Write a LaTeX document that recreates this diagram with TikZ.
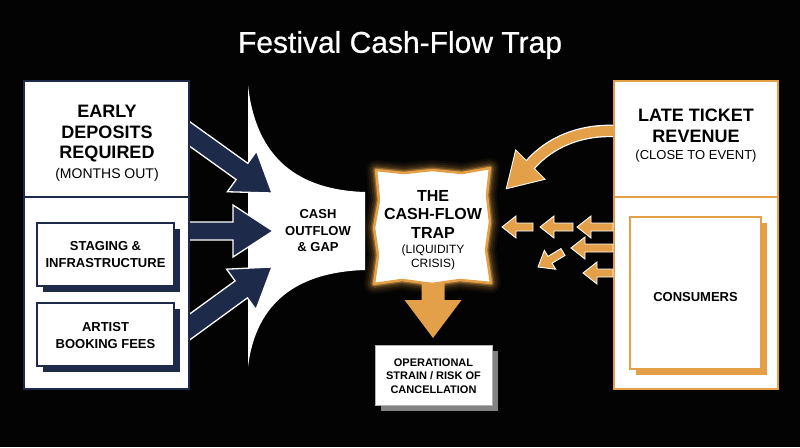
\documentclass[tikz,border=0pt]{standalone}
\usepackage{fontspec}
\setmainfont{Liberation Sans}
\newfontfamily\titlefont[FakeBold=0.7]{Liberation Sans}
\usetikzlibrary{calc}
\definecolor{navy}{RGB}{30,42,74}
\definecolor{gold}{RGB}{227,160,72}
\definecolor{bgc}{RGB}{3,3,3}
\definecolor{shadowgrey}{RGB}{130,130,130}
% block arrow: style, tail, tip, half shaft, half head, head length
\newcommand\blockarrow[6]{%
  \coordinate (ba-s) at #2; \coordinate (ba-e) at #3;
  \coordinate (ba-h) at ($(ba-e)!#6!(ba-s)$);
  \path[#1] ($(ba-s)!#4!90:(ba-e)$) -- ($(ba-h)!#4!90:(ba-e)$) -- ($(ba-h)!#5!90:(ba-e)$)
    -- (ba-e) -- ($(ba-h)!#5!-90:(ba-e)$) -- ($(ba-h)!#4!-90:(ba-e)$) -- ($(ba-s)!#4!-90:(ba-e)$) -- cycle;
}
\newcommand\trappath{(376,170) -- (404,173) -- (432,170) -- (462,173) -- (490,168) -- (487,195) -- (490,222) -- (486,250) -- (491,283) -- (460,280) -- (432,284) -- (402,280) -- (374,284) -- (378,255) -- (374,228) -- (379,200) -- cycle}
\begin{document}
\begin{tikzpicture}[x=1pt,y=-1pt,
  txt/.style={inner sep=0pt, align=center, text=black},
  bigb/.style={txt, font=\bfseries\fontsize{18}{20.5}\selectfont},
  navyarrow/.style={fill=navy, draw=white, line width=1.3pt, line join=miter},
  goldarrow/.style={fill=gold, draw=white, line width=0.9pt, line join=miter},
  navybox/.style={fill=white, draw=navy, line width=1.5pt},
  goldbox/.style={fill=white, draw=gold, line width=1.5pt}]
\useasboundingbox (0,0) rectangle (800,447);
\fill[bgc] (0,0) rectangle (800,447);

% title
\node[inner sep=0pt, text=white, font=\titlefont\fontsize{30}{34}\selectfont] (title) at (400,45) {Festival Cash-Flow Trap};

% funnel
\fill[white] (248,85) .. controls (256,160) and (300,190) .. (365,192) -- (365,270)
  .. controls (300,272) and (256,300) .. (248,367) -- cycle;
\node[txt, font=\bfseries\fontsize{13}{16.5}\selectfont] (gap) at (318,231) {CASH\\OUTFLOW\\\& GAP};

% navy arrows into funnel
\coordinate (n1s) at (180,127); \coordinate (n1e) at (272,193);
\coordinate (n2s) at (180,231); \coordinate (n2e) at (273,231);
\coordinate (n3s) at (180,334); \coordinate (n3e) at (272,267);
\blockarrow{navyarrow}{(n1s)}{(n1e)}{10pt}{25pt}{37pt}
\blockarrow{navyarrow}{(n2s)}{(n2e)}{9pt}{26pt}{40pt}
\blockarrow{navyarrow}{(n3s)}{(n3e)}{10.5pt}{25pt}{38pt}

% left panel
\draw[navybox, line width=2pt] (24,81) rectangle (189,389);
\draw[navy, line width=2pt] (24,197) -- (189,197);
\node[bigb] (early) at (107,134) {EARLY\\DEPOSITS\\REQUIRED};
\node[txt, font=\fontsize{14}{16}\selectfont] (months) at (107,175) {(MONTHS OUT)};
\fill[navy] (43,229) rectangle (180,292);
\draw[navybox] (37,223) rectangle (174,286);
\node[txt, font=\bfseries\fontsize{13}{17}\selectfont] (staging) at (105.5,255) {STAGING \&\\INFRASTRUCTURE};
\fill[navy] (43,309) rectangle (180,372);
\draw[navybox] (37,303) rectangle (174,366);
\node[txt, font=\bfseries\fontsize{13}{17}\selectfont] (artist) at (105.5,336) {ARTIST\\BOOKING FEES};

% down arrow from trap
\coordinate (ds) at (433,275); \coordinate (de) at (433,338);
\blockarrow{fill=gold}{(ds)}{(de)}{11.5pt}{28.5pt}{38pt}

% trap box with glow
\foreach \w/\o in {20/0.05,16/0.08,12/0.12,8/0.2,5/0.4}{
  \draw[gold, line width=\w pt, opacity=\o, line join=round] \trappath;
}
\draw[fill=white, draw=gold, line width=2.5pt, line join=round] \trappath;
\node[txt, font=\bfseries\fontsize{16}{18.5}\selectfont] (trap) at (433,214) {THE\\CASH-FLOW\\TRAP};
\node[txt, font=\fontsize{12}{14}\selectfont] (crisis) at (433,257.5) {(LIQUIDITY\\CRISIS)};

% operational box
\fill[shadowgrey] (381,351) rectangle (498,411);
\draw[fill=white, draw=gray!60, line width=1pt] (375,345) rectangle (492,405);
\node[txt, font=\bfseries\fontsize{11}{13.5}\selectfont] (oper) at (433.5,376) {OPERATIONAL\\STRAIN / RISK OF\\CANCELLATION};

% right panel
\draw[goldbox, line width=2pt] (614,81) rectangle (778,389);
\draw[gold, line width=2pt] (614,197) -- (778,197);
\node[bigb] (late) at (696,126) {LATE TICKET\\REVENUE};
\node[txt, font=\fontsize{13}{15}\selectfont] (close) at (696,156) {(CLOSE TO EVENT)};
\fill[gold] (636,223) rectangle (767,375);
\draw[goldbox] (630,217) rectangle (761,369);
\node[txt, font=\bfseries\fontsize{13}{15}\selectfont] (cons) at (695.5,297.5) {CONSUMERS};

% curved arrow from late ticket revenue to trap
\coordinate (cs) at (613,131); \coordinate (cm) at (530,165);
\draw[white, line width=12.5pt] (cs) .. controls (580,130) and (550,142) .. (cm);
\draw[white, line width=2pt, line join=miter] (516,151) -- (507,188) -- (544,179) -- cycle;
\draw[gold, line width=10pt] (cs) .. controls (580,130) and (550,142) .. (cm);
\fill[gold] (516,151) -- (507,188) -- (544,179) -- cycle;

% small arrows from consumers
\coordinate (a1s) at (533,227); \coordinate (a1e) at (502,227);
\coordinate (a2s) at (573,227); \coordinate (a2e) at (540,227);
\coordinate (a3s) at (613,227); \coordinate (a3e) at (577,227);
\coordinate (a4s) at (613,248); \coordinate (a4e) at (571,248);
\coordinate (a5s) at (613,273); \coordinate (a5e) at (583,273);
\coordinate (a6s) at (563,252); \coordinate (a6e) at (538,267);
\foreach \i in {1,...,6}{
  \blockarrow{goldarrow}{(a\i s)}{(a\i e)}{4pt}{11pt}{14pt}
}
\end{tikzpicture}
\end{document}
